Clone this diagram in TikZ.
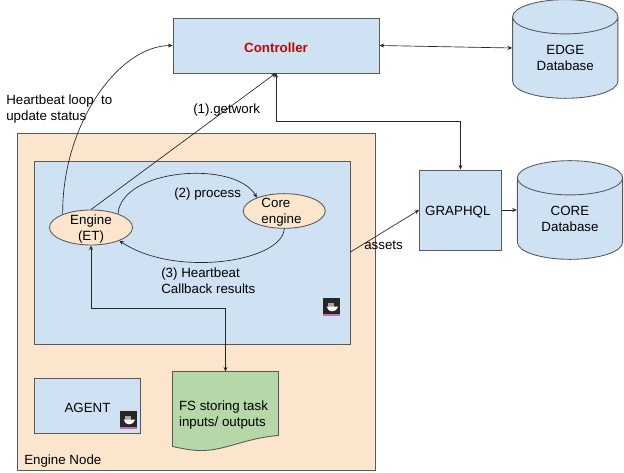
\documentclass[tikz,border=0pt]{standalone}
\usepackage{fontspec}
\setmainfont{Liberation Sans}
\usepackage{xcolor}
\usetikzlibrary{arrows.meta}
\usetikzlibrary{positioning}
\usetikzlibrary{shapes.geometric}
\definecolor{paleblue}{HTML}{CFE2F3}
\definecolor{paleorange}{HTML}{FCE5CD}
\definecolor{palegreen}{HTML}{B6D7A8}
\definecolor{linegrey}{HTML}{595959}
\definecolor{ctrlred}{HTML}{CC0000}
\tikzset{
  lowtext/.style={execute at begin node={\rule{0pt}{10pt}}},
  blockbox/.style={draw=linegrey, fill=paleblue, inner sep=0pt, line width=0.65pt, lowtext},
  orangebox/.style={draw=linegrey, fill=paleorange, inner sep=0pt, line width=0.65pt},
  procnode/.style={draw=linegrey, fill=paleorange, ellipse, inner sep=0pt, line width=0.65pt},
  dbnode/.style={draw=linegrey, fill=paleblue, line width=0.65pt, cylinder, shape border rotate=90, aspect=0.6, inner sep=0pt, align=center, anchor=shape center},
  label/.style={align=left, inner sep=0pt, text=black},
  link/.style={draw=black!85, line width=0.5pt, -{Stealth[length=3.5pt,width=3pt]}},
  twolink/.style={link, {Stealth[length=3.5pt,width=3pt]}-{Stealth[length=3.5pt,width=3pt]}},
  dockerbox/.style={fill=black!85, minimum width=12.75pt, minimum height=13.5pt, inner sep=0pt}
}
\begin{document}
\begin{tikzpicture}[x=0.75pt,y=-0.75pt,font=\fontsize{10}{12}\selectfont]
	\useasboundingbox (0,0) rectangle (624,473);
	% containers
	\node[orangebox, minimum width=268.1pt, minimum height=253pt] (enginenode) at (196.25,302.25) {};
	\node[blockbox, minimum width=237pt, minimum height=137.25pt] (worker) at (192.5,253) {};
	\node[label, anchor=south west] (nodetext) at (24,468) {Engine Node};
	% top row
	\node[blockbox, minimum width=154.5pt, minimum height=41.25pt] (controller) at (276,45.5) {\textcolor{ctrlred}{\textbf{Controller}}};
	\node[dbnode, minimum width=79pt, minimum height=74pt] (edge) at (565.25,49) {EDGE\\Database};
	\node[blockbox, minimum width=61.5pt, minimum height=60pt] (graphql) at (460.5,210) {GRAPHQL\hspace*{4pt}};
	\node[dbnode, minimum width=79pt, minimum height=74pt] (core) at (570,210) {CORE\\Database};
	% inside
	\node[procnode, minimum width=62.25pt, minimum height=26.25pt] (engine) at (91,227.5) {};
	\node[label, align=center] (enginetext) at (91,229) {Engine\\(ET)};
	\node[procnode, minimum width=61.5pt, minimum height=26pt] (corengine) at (284.25,211) {};
	\node[label] (coretext) at (281.5,212) {Core\\engine};
	\node[blockbox, minimum width=79.5pt, minimum height=41.25pt] (agent) at (87.5,406) {AGENT};
	% document shape
	\draw[fill=palegreen, draw=linegrey, line width=0.65pt] (172.5,371.5) -- (278.5,371.5) -- (278.5,435.5)
		.. controls (245,438) and (225,451) .. (200,450.5) .. controls (190,450.5) and (180,448) .. (172.5,446.5) -- cycle;
	\coordinate (docktop) at (225.5,371.5);
	\node[label] (doctext) at (223.5,415) {FS storing task\\inputs/ outputs};
	% docker icons
	\foreach \name/\x/\y in {dockera/331.5/307,dockerb/128.5/420}{
		\node[dockerbox] (\name) at (\x,\y) {};
		\begin{scope}[shift={(\name.center)},x=1pt,y=1pt]
			\fill[violet!55] (-6.375,-6.75) rectangle (6.375,-4.9);
			\fill[black!35] (-2.5,0) rectangle (2,3.2);
			\fill[white] (-3.6,0.2) -- (4.9,0.2) .. controls (4,-4.4) and (-3,-4.4) .. cycle;
		\end{scope}
	}
	% connectors
	\draw[link] (engine.155) .. controls (62,125) and (118,46) .. (controller.west);
	\draw[link] (engine.north) -- (276,73);
	\draw[twolink] (controller.east) -- (edge.west |- 0,48);
	\draw[twolink] (276,73) |- (460.5,121.5) -- (graphql.north);
	\draw[link] (graphql.east) -- (graphql.east -| core.west);
	\draw[link] (350.5,252) -- (graphql.west);
	\draw[link] (engine.27) .. controls (122,168) and (235,160) .. (corengine.154);
	\draw[link] (corengine.south) .. controls (282,262) and (175,278) .. (engine.-25);
	\draw[twolink] (engine.south) |- (225.5,308.5) -- (docktop);
	% labels
	\node[label, anchor=west] (hbtext) at (6,109) {Heartbeat loop\ \ to\\update status};
	\node[label, anchor=west] (worktext) at (193,110) {(1).getwork};
	\node[label, anchor=west] (proctext) at (174,194) {(2) process};
	\node[label, anchor=west] (cbtext) at (161,281) {(3) Heartbeat\\Callback results};
	\node[label, anchor=west] (assetstext) at (364,245) {assets};
\end{tikzpicture}
\end{document}
